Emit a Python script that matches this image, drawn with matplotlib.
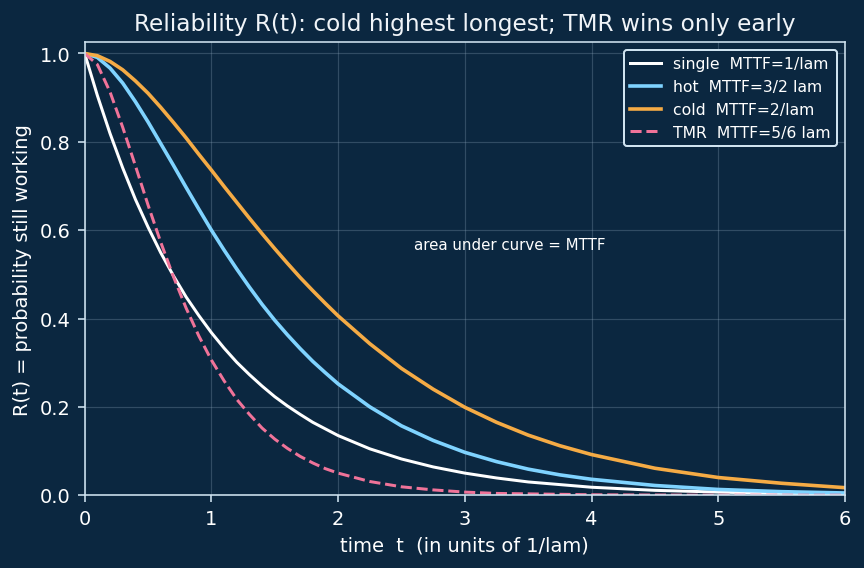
import numpy as np
import matplotlib.pyplot as plt

# time axis (units of 1/lam) and R(t)
t = [0, 0.1, 0.2, 0.3, 0.4, 0.5, 0.6, 0.7, 0.8, 0.9, 1.0, 1.1, 1.2, 1.3, 1.4, 1.5, 1.6,
     1.7, 1.8, 1.9, 2.0, 2.25, 2.5, 2.75, 3.0, 3.25, 3.5, 3.75, 4.0, 4.5, 5.0, 5.5, 6.0]
r_single = [1.000, 0.905, 0.819, 0.741, 0.670, 0.607, 0.549, 0.497, 0.449, 0.407, 0.368,
            0.333, 0.301, 0.273, 0.247, 0.223, 0.202, 0.183, 0.165, 0.150, 0.135,
            0.105, 0.082, 0.064, 0.050, 0.039, 0.030, 0.024, 0.018, 0.011, 0.007,
            0.004, 0.002]
r_hot = [1.000, 0.991, 0.967, 0.933, 0.891, 0.845, 0.796, 0.747, 0.697, 0.648, 0.600,
         0.555, 0.512, 0.471, 0.432, 0.396, 0.363, 0.332, 0.303, 0.277, 0.252,
         0.200, 0.157, 0.124, 0.097, 0.076, 0.059, 0.046, 0.036, 0.022, 0.013,
         0.008, 0.005]
r_cold = [1.000, 0.995, 0.982, 0.963, 0.938, 0.910, 0.878, 0.844, 0.809, 0.772, 0.736,
          0.699, 0.663, 0.627, 0.592, 0.558, 0.525, 0.493, 0.463, 0.434, 0.406,
          0.343, 0.287, 0.240, 0.199, 0.165, 0.136, 0.112, 0.092, 0.061, 0.040,
          0.027, 0.017]
r_tmr = [1.000, 0.975, 0.913, 0.833, 0.746, 0.657, 0.573, 0.495, 0.424, 0.361, 0.306,
         0.259, 0.217, 0.183, 0.152, 0.127, 0.106, 0.088, 0.073, 0.060, 0.050,
         0.031, 0.019, 0.012, 0.007, 0.004, 0.003, 0.002, 0.001, 0.0004, 0.0001,
         0.0, 0.0]

bg = '#0b2740'
fg = '#cfe3f0'

fig, ax = plt.subplots(figsize=(6, 3.95), dpi=144)
fig.patch.set_facecolor(bg)
ax.set_facecolor(bg)

ax.plot(t, r_single, color='white', lw=1.5, label='single  MTTF=1/lam')
ax.plot(t, r_hot, color='#7fd3ff', lw=1.8, label='hot  MTTF=3/2 lam')
ax.plot(t, r_cold, color='#f5ab45', lw=1.8, label='cold  MTTF=2/lam')
ax.plot(t, r_tmr, color='#f07399', lw=1.5, ls='--', label='TMR  MTTF=5/6 lam')

ax.text(2.6, 0.566, 'area under curve = MTTF', color='white', fontsize=7.5, va='center')

ax.set_xlim(0, 6)
ax.set_ylim(0, 1.025)
ax.grid(True, color='#8aa4b8', alpha=0.3, lw=0.6)
ax.set_title('Reliability R(t): cold highest longest; TMR wins only early',
             color='#f0f4f8', fontsize=11.6)
ax.set_xlabel('time  t  (in units of 1/lam)', color='white', fontsize=9.7)
ax.set_ylabel('R(t) = probability still working', color='white', fontsize=9.7)
ax.tick_params(colors=fg, labelcolor='white', labelsize=9.7)
for s in ax.spines.values():
    s.set_color(fg)

leg = ax.legend(loc='upper right', fontsize=7.8, facecolor=bg, edgecolor=fg, framealpha=1)
for txt in leg.get_texts():
    txt.set_color('white')

fig.subplots_adjust(left=0.098, right=0.978, top=0.924, bottom=0.128)
plt.savefig('out.png', facecolor=bg)
